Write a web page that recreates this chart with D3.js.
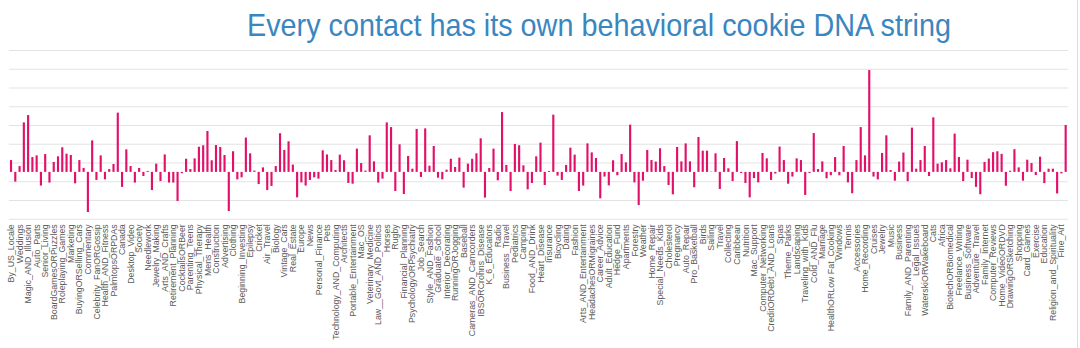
<!DOCTYPE html>
<html>
<head>
<meta charset="utf-8">
<script src="https://cdn.jsdelivr.net/npm/d3@7"></script>
<style>
  body { margin: 0; background: #fff; }
  svg { display: block; }
</style>
</head>
<body>
<script>
var w = 1080
var h = 348

// one value per cookie category, only every other category gets a label
var values = [
  0.63, -0.52, 0.31, 2.64, 3.03, 0.79, 0.88, -0.73, 0.95, -0.57, 0.53, 0.83, 1.31, 0.97, 0.90, -0.61, 0.63, 0.21, -2.14, 1.68, -0.43, 0.88, -0.40, 0.15, 0.42, 3.16, -0.80,
  1.20, 0.31, -0.57, 0.21, -0.22, 0.05, -0.97, 0.44, -0.49, 0.93, -0.57, -0.57, -1.55, -0.07, 0.70, 0.15, 0.72, 1.34, 1.42, 2.18, 0.62, 1.43, 1.33, 0.90, -2.09, 1.10, -0.40, -0.29, 1.83,
  0.99, 0.07, -0.65, 0.24, -0.97, -0.75, 0.31, 2.06, 1.17, 1.63, 0.39, -1.36, -0.56, -0.73, -0.43, -0.29, -0.36, 1.15, 0.93, 0.63, 0.10, 0.92, 0.62, -0.59, -0.63, 1.24, 0.47, 0.07,
  1.95, 0.56, -0.57, -0.36, 2.64, 2.39, -1.02, 1.47, -1.18, 0.85, 0.17, 2.29, -0.27, 2.32, 0.33, 1.38, -0.31, -0.40, 0.12, 0.70, 0.26, 0.76, -0.84, 0.44, 0.70, 0.99, 1.79, -1.37,
  0.21, 1.24, -0.45, 3.19, 0.37, -1.02, 1.49, 1.42, 0.35, -0.93, -0.59, 0.83, 1.56, -0.70, 0.05, 3.05, -0.20, -0.43, 0.37, 1.29, 0.92, -1.02, -0.73, 1.52, 1.04, 0.74, -1.41, -0.25,
  -0.72, 0.62, -0.18, 0.95, 0.51, 2.52, -0.56, -1.77, -0.47, 1.17, 0.63, 0.55, 1.26, 0.31, -0.70, -1.20, 1.33, 0.56, 1.52, 0.56, -0.82, 1.86, 1.13, 1.13, 0.02, 0.99, -0.91, 0.74,
  0.19, -0.49, 1.64, -0.06, -0.59, -1.36, -0.33, -0.56, 1.01, 0.72, -0.43, -0.09, 1.35, 0.63, -0.63, -0.25, 0.72, 0.63, -1.23, -0.06, 2.07, 0.15, 0.56, -0.34, -0.18, 0.79, -0.18, 1.38,
  -0.56, -1.14, 0.63, 2.39, 0.88, 5.43, -0.25, -0.40, 1.01, 1.95, 0.10, -0.47, 0.55, 1.03, -0.50, 2.36, 0.17, 0.63, 1.38, -0.22, 2.91, 0.44, 0.51, 0.63, 0.19, 2.04, 0.79, -0.49,
  0.65, -0.33, -0.80, -1.19, 0.53, 0.71, 1.05, 1.10, 0.96, -0.74, 0.06, 1.21, 0.24, -0.47, 0.65, 0.47, -0.17, 0.81, -0.60, 0.17, 0.17, -1.15, -0.08, 2.50
]

var tickLabels = [
  "By_US_Locale", "Weddings", "Magic_AND_Illusion", "Auto_Parts", "Senior_Living", "BoardGamesORPuzzles",
  "Roleplaying_Games", "Marketing", "BuyingORSelling_Cars", "Commentary", "Celebrity_FanORGossip",
  "Health_AND_Fitness", "PalmtopsORPDAs", "Canada", "Desktop_Video", "Society", "Needlework",
  "Jewelry_Making", "Arts_AND_Crafts", "Retirement_Planning", "CocktailsORBeer", "Parenting_Teens",
  "Physical_Therapy", "Mens_Health", "Construction", "Advertising", "Clothing", "Beginning_Investing",
  "Epilepsy", "Cricket", "Air_Travel", "Biology", "Vintage_Cars", "Real_Estate", "Europe", "News",
  "Personal_Finance", "Pets", "Technology_AND_Computing", "Architects", "Portable_Entertainment", "Mac_OS",
  "Veterinary_Medicine", "Law__Govt_AND_Politics", "Horses", "Rugby", "Financial_Planning",
  "PsychologyORPsychiatry", "Job_Search", "Style_AND_Fashion", "Graduate_School", "Interior_Decorating",
  "RunningORJogging", "Baseball", "Cameras_AND_Camcorders", "IBSORCrohns_Disease", "K_6_Educators", "Radio",
  "Business_Travel", "Pediatrics", "Camping", "Food_AND_Drink", "Heart_Disease", "Insurance", "Bicycling",
  "Dating", "Fashion", "Arts_AND_Entertainment", "HeadachesORMigraines", "Career_Advice", "Adult_Education",
  "Hedge_Fund", "Apartments", "Forestry", "Weather", "Home_Repair", "Special_Needs_Kids", "Cholesterol",
  "Pregnancy", "Auto_Repair", "Pro_Basketball", "Birds", "Sailing", "Travel", "Collecting", "Caribbean",
  "Nutrition", "Mac_Support", "Computer_Networking", "CreditORDebt_AND_Loans", "Spas", "Theme_Parks",
  "Landscaping", "Traveling_with_Kids", "Cold_AND_Flu", "Marriage", "HealthORLow Fat_Cooking", "Windows",
  "Tennis", "Accessories", "Home_Recording", "Cruises", "Jewelry", "Music", "Business",
  "Family_AND_Parenting", "Legal_Issues", "WaterskiORWakeboard", "Cats", "Africa", "BiotechORBiomedical",
  "Freelance_Writing", "Business_Software", "Adventure_Travel", "Family_Internet", "Computer_Reviews",
  "Home_VideoORDVD", "DrawingORSketching", "Shopping", "Card_Games", "Exercise", "Education",
  "Religion_and_Spirituality", "Fine_Art"
]

var gridValues = [-2.5, -1.5, -0.5, 0.5, 1.5, 2.5, 3.5, 4.5, 5.5, 6.5]

var titleText = "Every contact has its own behavioral cookie DNA string"

var svg = d3.select("body").append("svg")
  .attr("width", w)
  .attr("height", h)

var x = d3.scaleBand()
  .domain(d3.range(values.length))
  .range([8.9, 1067.8])
  .paddingInner(0.5)
  .paddingOuter(0.25)

var y = d3.scaleLinear()
  .domain([-2.5, 6.5])
  .range([218.75, 50])

// gridlines
svg.append("g")
  .attr("transform", "translate(" + x.range()[0] + ",0)")
  .call(d3.axisLeft(y).tickValues(gridValues).tickSize(-(x.range()[1] - x.range()[0])).tickFormat(""))
  .call(g => g.select(".domain").remove())
  .call(g => g.selectAll(".tick line").attr("stroke", "#e3e3e3").attr("stroke-width", 1.2))

// bars
svg.append("g").selectAll("rect")
  .data(values)
  .join("rect")
  .attr("x", (d, i) => x(i))
  .attr("width", x.bandwidth())
  .attr("y", d => y(Math.max(0, d)))
  .attr("height", d => Math.abs(y(d) - y(0)))
  .attr("fill", "#e3106a")

// category labels, every other one
var xAxis = d3.axisBottom(x)
  .tickSize(0)
  .tickFormat(i => i % 2 === 0 ? tickLabels[i / 2] : "")

svg.append("g")
  .attr("transform", "translate(0," + y.range()[0] + ")")
  .call(xAxis)
  .call(g => g.select(".domain").remove())
  .call(g => g.selectAll(".tick text")
    .attr("transform", "rotate(-90)")
    .attr("text-anchor", "end")
    .attr("x", -5.5)
    .attr("y", 0)
    .attr("dy", "0.35em")
    .attr("fill", "#595959")
    .style("font-family", "'Liberation Sans', Arial, sans-serif")
    .style("font-size", "8.8px"))

// title - squeezed to the narrow width of the original face
svg.append("text")
  .attr("x", 247)
  .attr("y", 36)
  .attr("fill", "#3a86bf")
  .attr("textLength", 704)
  .attr("lengthAdjust", "spacingAndGlyphs")
  .style("font-family", "'Liberation Sans', Arial, sans-serif")
  .style("font-size", "32px")
  .text(titleText)

// right edge rule
svg.append("line")
  .attr("x1", 1077.5).attr("x2", 1077.5)
  .attr("y1", 0).attr("y2", h)
  .attr("stroke", "#dcdcdc")
  .attr("stroke-width", 1)
</script>
</body>
</html>
